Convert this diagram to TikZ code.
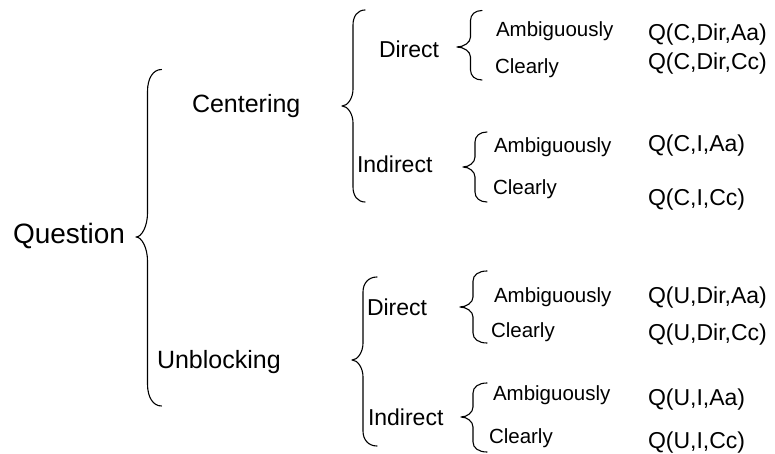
\documentclass[tikz,border=0pt]{standalone}
\usepackage{fontspec}
\setmainfont{Liberation Sans}
% #1 xtip, #2 xvert, #3 xend, #4 ytop, #5 ytip, #6 ybot, #7 end-curve extent, #8 tip-curve extent
\newcommand\mybrace[8]{%
  \draw[bracestyle] (#3,#4)
    .. controls ({#2+0.4*(#3-#2)},#4) and (#2,{#4+0.4*#7}) .. (#2,{#4+#7})
    -- (#2,{#5-#8})
    .. controls (#2,{#5-0.45*#8}) and ({#1+0.5*(#2-#1)},#5) .. (#1,#5)
    .. controls ({#1+0.5*(#2-#1)},#5) and (#2,{#5+0.45*#8}) .. (#2,{#5+#8})
    -- (#2,{#6-#7})
    .. controls (#2,{#6-0.4*#7}) and ({#2+0.4*(#3-#2)},#6) .. (#3,#6);}
\begin{document}
\begin{tikzpicture}[x=1pt,y=-1pt,
  bracestyle/.style={line width=1.1pt,line cap=round,line join=round},
  lbl/.style={anchor=base west,inner sep=0pt,outer sep=0pt},
  fq/.style={lbl,font=\fontsize{28}{30}\selectfont},
  fa/.style={lbl,font=\fontsize{25}{27}\selectfont},
  fb/.style={lbl,font=\fontsize{23}{25}\selectfont},
  fc/.style={lbl,font=\fontsize{20.5}{22}\selectfont},
  fr/.style={lbl,font=\fontsize{23}{25}\selectfont}]
\useasboundingbox (0,0) rectangle (775,454);
% level 0
\node[fq] (question) at (13,243) {Question};
\mybrace{136}{147.5}{161.5}{69.5}{237}{406}{22}{24}
% level 1
\node[fa] (centering) at (192,113) {Centering};
\node[fa] (unblocking) at (157,368) {Unblocking};
\mybrace{342}{353}{365}{10}{106}{202}{15}{17}
\mybrace{352}{363}{377}{277}{360}{446}{15}{17}
% level 2
\node[fb] (cdir) at (379,58) {Direct};
\node[fb] (cind) at (357,173) {Indirect};
\node[fb] (udir) at (367,315) {Direct};
\node[fb] (uind) at (368,425) {Indirect};
\mybrace{457}{470.5}{482}{10.5}{47}{80}{10}{10}
\mybrace{463}{475}{487}{132}{167}{202}{10}{10}
\mybrace{460}{473}{487}{271}{307}{343}{10}{10}
\mybrace{461}{473}{487}{383}{417}{452}{10}{10}
% level 3
\node[fc] (cda) at (496,36.7) {Ambiguously};
\node[fc] (cdc) at (495,74) {Clearly};
\node[fc] (cia) at (494,153) {Ambiguously};
\node[fc] (cic) at (493,195) {Clearly};
\node[fc] (uda) at (494,302) {Ambiguously};
\node[fc] (udc) at (491,337) {Clearly};
\node[fc] (uia) at (493,400) {Ambiguously};
\node[fc] (uic) at (489,443) {Clearly};
% results
\node[fr] (qcda) at (648,40.7) {Q(C,Dir,Aa)};
\node[fr] (qcdc) at (648,70) {Q(C,Dir,Cc)};
\node[fr] (qcia) at (648,152) {Q(C,I,Aa)};
\node[fr] (qcic) at (648,205) {Q(C,I,Cc)};
\node[fr] (quda) at (648,303) {Q(U,Dir,Aa)};
\node[fr] (qudc) at (648,340) {Q(U,Dir,Cc)};
\node[fr] (quia) at (648,405) {Q(U,I,Aa)};
\node[fr] (quic) at (648,448) {Q(U,I,Cc)};
\end{tikzpicture}
\end{document}
